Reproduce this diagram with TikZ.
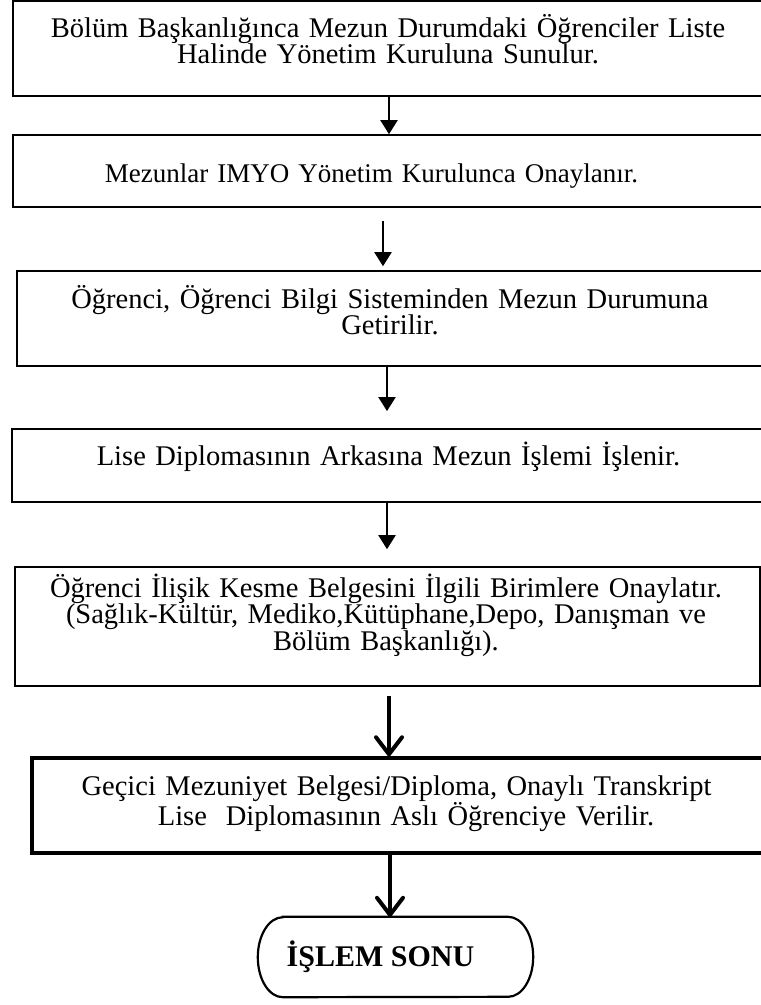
\documentclass[tikz,border=0pt]{standalone}
\usepackage{fontspec}
\setmainfont{Liberation Serif}
\usetikzlibrary{arrows.meta,calc}
\begin{document}
\begin{tikzpicture}[x=1pt,y=-1pt,
  box/.style={draw, rectangle, inner sep=0pt, line width=1.6pt},
  boxtext/.style={text width=740pt, align=center, anchor=base, inner sep=0pt,
    font=\fontsize{28.5}{25}\selectfont},
  thin arrow/.style={line width=2pt, -{Triangle[width=17pt,length=14pt]}},
  thick arrow/.style={line width=4pt, -{Straight Barb[round,width=26pt,length=17pt]}}
]
\useasboundingbox (0,0) rectangle (761,1005);
\clip (0,0) rectangle (761,1005);

% process boxes
\node[box, minimum width=752pt, minimum height=95pt] (b1) at (389,48.5) {};
\node[box, minimum width=752pt, minimum height=72pt] (b2) at (389,171) {};
\node[box, minimum width=748pt, minimum height=95pt] (b3) at (391,318.5) {};
\node[box, line width=1.8pt, minimum width=753pt, minimum height=73pt] (b4) at (388.5,465.5) {};
\node[box, minimum width=745pt, minimum height=119pt] (b5) at (387.5,626.5) {};
\node[box, line width=3.5pt, minimum width=733pt, minimum height=95pt] (b6) at (398.5,805.5) {};

% box texts
\node[boxtext] (t1) at (388,37) {Bölüm Başkanlığınca Mezun Durumdaki Öğrenciler Liste\\Halinde Yönetim Kuruluna Sunulur.\hspace*{4pt}};
\node[boxtext, font=\fontsize{27}{25}\selectfont] (t2) at (371.5,182) {Mezunlar IMYO Yönetim Kurulunca Onaylanır.};
\node[boxtext] (t3) at (390,308) {Öğrenci, Öğrenci Bilgi Sisteminden Mezun Durumuna\\Getirilir.\hspace*{8pt}};
\node[boxtext] (t4) at (388.5,465) {Lise Diplomasının Arkasına Mezun İşlemi İşlenir.};
\node[boxtext] (t5) at (386,597) {Öğrenci İlişik Kesme Belgesini İlgili Birimlere Onaylatır.\\(Sağlık-Kültür, Mediko,Kütüphane,Depo, Danışman ve\hspace*{27pt}\\Bölüm Başkanlığı).\hspace*{106pt}};
\node[boxtext] (t6) at (396.5,795) {Geçici Mezuniyet Belgesi/Diploma, Onaylı Transkript\\\hspace*{19pt}Lise~ Diplomasının Aslı Öğrenciye Verilir.};

% terminal
\node[rectangle, inner sep=0pt, minimum width=275pt, minimum height=80pt] (end) at (395.5,957) {};
\draw[line width=2.2pt]
  ($(end.north west)+(25,0)$) -- ($(end.north east)+(-25,0)$)
  arc[start angle=90, end angle=-90, x radius=25pt, y radius=40pt]
  -- ($(end.south west)+(25,0)$)
  arc[start angle=270, end angle=90, x radius=25pt, y radius=40pt] -- cycle;
\node[anchor=base, inner sep=0pt, font=\fontsize{30}{30}\selectfont\bfseries] (endtext) at (380.5,966) {İŞLEM SONU};

% connectors
\draw[thin arrow] (b1.south) -- (b2.north);
\draw[thin arrow, shorten <=13pt, shorten >=4pt] ([xshift=-6pt]b2.south) -- ([xshift=-6pt]b2.south |- b3.north);
\draw[thin arrow, shorten >=17pt] ([xshift=-4pt]b3.south) -- ([xshift=-4pt]b3.south |- b4.north);
\draw[thin arrow, shorten >=17pt] ([xshift=-1.5pt]b4.south) -- ([xshift=-1.5pt]b4.south |- b5.north);
\draw[thick arrow, shorten <=9pt] ([xshift=1.5pt]b5.south) -- ([xshift=1.5pt]b5.south |- b6.north);
\draw[thick arrow] ([xshift=-8.5pt]b6.south) -- ([xshift=-5.5pt]end.north);
\end{tikzpicture}
\end{document}
